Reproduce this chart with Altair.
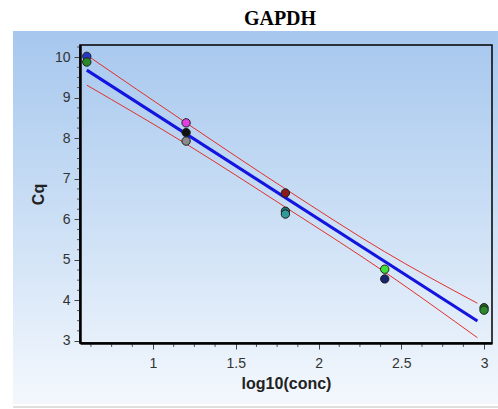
import altair as alt
import pandas as pd

# Standard curve samples: log10 concentration vs. quantification cycle
conc_log = [0.6, 0.6, 1.2, 1.2, 1.2, 1.8, 1.8, 1.8, 2.4, 2.4, 3.0, 3.0]
cq = [10.02, 9.88, 8.38, 8.14, 7.93, 6.65, 6.20, 6.13, 4.77, 4.53, 3.82, 3.76]
well = ["A1", "A2", "B1", "B2", "B3", "C1", "C2", "C3", "D1", "D2", "E1", "E2"]
well_colors = ["#2438c8", "#2a8a2a", "#e23ee0", "#111111", "#8a8a8a", "#8b1c1c",
               "#1f6f72", "#2f9a98", "#3fe03a", "#1a2370", "#1f6b22", "#2a8a2a"]

# Fitted line and its confidence band
fit_x = [0.6, 2.96]
fit_y = [9.68, 3.49]
band_x = [0.6, 1.2, 1.8, 2.4, 2.96]
band_hi = [10.05, 8.38, 6.75, 5.20, 3.93]
band_lo = [9.31, 7.86, 6.30, 4.70, 3.08]

# Labelled ticks and the unlabelled minor ticks between them
x_major = [1, 1.5, 2, 2.5, 3]
y_major = [3, 4, 5, 6, 7, 8, 9, 10]
x_minor = [0.625, 0.75, 0.875, 1.125, 1.25, 1.375, 1.625, 1.75, 1.875,
           2.125, 2.25, 2.375, 2.625, 2.75, 2.875]
y_minor = [3.25, 3.5, 3.75, 4.25, 4.5, 4.75, 5.25, 5.5, 5.75, 6.25, 6.5, 6.75,
           7.25, 7.5, 7.75, 8.25, 8.5, 8.75, 9.25, 9.5, 9.75, 10.25]

W, H = 412, 298
FONT = "Liberation Sans"

pts = pd.DataFrame({"x": conc_log, "y": cq, "well": well})
fit = pd.DataFrame({"x": fit_x, "y": fit_y})
band = pd.DataFrame({"x": band_x * 2, "y": band_hi + band_lo,
                     "side": ["hi"] * 5 + ["lo"] * 5})

xs = alt.Scale(domain=[0.559, 3.048], nice=False, zero=False)
ys = alt.Scale(domain=[2.95, 10.3], nice=False, zero=False)

x_axis = alt.Axis(
    values=x_major, title="log10(conc)", grid=False, zindex=2, format="~f",
    labelOverlap=False, labelFlush=False,
    tickSize=6, tickColor="#444", tickWidth=1, domainColor="#000", domainWidth=2.5,
    labelFont=FONT, labelFontSize=14, labelColor="#333", labelPadding=7,
    titleFont=FONT, titleFontSize=16, titleFontWeight="bold", titleColor="#222",
    titlePadding=5,
)
y_axis = alt.Axis(
    values=y_major, title="Cq", grid=False, zindex=2, format="~f",
    labelOverlap=False, labelFlush=False,
    tickSize=6, tickColor="#444", tickWidth=1, domainColor="#000", domainWidth=2.5,
    labelFont=FONT, labelFontSize=14, labelColor="#333", labelPadding=4,
    titleFont=FONT, titleFontSize=16, titleFontWeight="bold", titleColor="#222",
    titlePadding=8,
)

one = alt.Data(values=[{}])

panel = alt.Chart(one).mark_rect(
    fill=alt.Gradient(
        gradient="linear", x1=0, y1=0, x2=0, y2=1,
        stops=[alt.GradientStop(color="#a6c7ee", offset=0),
               alt.GradientStop(color="#cbdff5", offset=0.5),
               alt.GradientStop(color="#f4f8fd", offset=1)],
    )
).encode(x=alt.value(-67), x2=alt.value(418), y=alt.value(-14), y2=alt.value(359))

frame = alt.Chart(one).mark_rect(fill=None, stroke="#000", strokeWidth=1.5).encode(
    x=alt.value(0), x2=alt.value(W), y=alt.value(0), y2=alt.value(H)
)

rule_bottom = alt.Chart(one).mark_rule(color="#d4d4d4", strokeWidth=1.5).encode(
    x=alt.value(-67), x2=alt.value(418), y=alt.value(362)
)

title = alt.Chart(one).mark_text(
    text="GAPDH", font="Liberation Serif", fontSize=20, fontWeight="bold",
    color="#000", baseline="alphabetic", align="center"
).encode(x=alt.value(200), y=alt.value(-20))

minor_x = alt.Chart(pd.DataFrame({"x": x_minor})).mark_rule(
    color="#555", strokeWidth=1
).encode(x=alt.X("x:Q", scale=xs), y=alt.value(H), y2=alt.value(H + 4))

minor_y = alt.Chart(pd.DataFrame({"y": y_minor})).mark_rule(
    color="#555", strokeWidth=1
).encode(y=alt.Y("y:Q", scale=ys), x=alt.value(-3), x2=alt.value(1))

bands = alt.Chart(band).mark_line(color="#e0302a", strokeWidth=1, interpolate="monotone").encode(
    x=alt.X("x:Q", scale=xs, axis=x_axis),
    y=alt.Y("y:Q", scale=ys, axis=y_axis),
    detail="side:N",
)

fit_line = alt.Chart(fit).mark_line(color="#1414e0", strokeWidth=3).encode(
    x=alt.X("x:Q", scale=xs), y=alt.Y("y:Q", scale=ys)
)

points = alt.Chart(pts).mark_point(
    filled=True, size=70, stroke="#202020", strokeWidth=1, opacity=1
).encode(
    x=alt.X("x:Q", scale=xs),
    y=alt.Y("y:Q", scale=ys),
    fill=alt.Fill("well:N", scale=alt.Scale(domain=well, range=well_colors), legend=None),
)

chart = alt.layer(
    panel, bands, frame, rule_bottom, title, minor_x, minor_y, fit_line, points
).properties(
    width=W, height=H,
    autosize=alt.AutoSizeParams(type="none"),
    padding={"left": 80, "top": 45, "right": 6, "bottom": 66},
    background="white",
).configure_view(stroke=None)

chart.save("out.html", embed_options={"renderer": "svg", "actions": False})
